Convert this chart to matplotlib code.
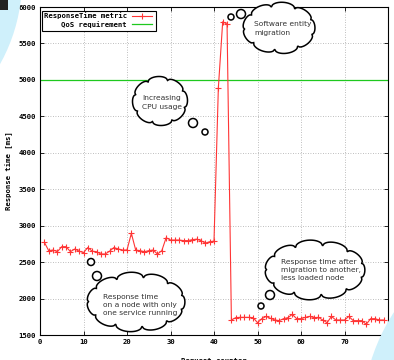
import matplotlib
matplotlib.use("Agg")
import matplotlib.pyplot as plt
from matplotlib.patches import Polygon, Circle, Rectangle
import numpy as np

# Data
request = np.arange(1, 80)
response_time = [
    2772, 2657, 2666, 2643, 2712, 2712, 2643, 2680, 2650, 2630,
    2700, 2650, 2643, 2611, 2611, 2650, 2700, 2680, 2666, 2666,
    2895, 2666, 2657, 2643, 2657, 2666, 2611, 2657, 2835, 2803,
    2803, 2803, 2795, 2795, 2808, 2815, 2795, 2760, 2780, 2788,
    4890, 5798, 5766, 1706, 1738, 1742, 1742, 1742, 1738, 1669,
    1724, 1755, 1728, 1706, 1697, 1724, 1738, 1783, 1724, 1724,
    1742, 1755, 1738, 1742, 1706, 1669, 1755, 1706, 1706, 1706,
    1755, 1697, 1697, 1697, 1646, 1724, 1724, 1706, 1706,
]
qos_requirement = 5000
x_ticks = np.arange(0, 81, 10)
y_ticks = np.arange(1500, 6001, 500)

mono = "DejaVu Sans Mono"
fs = 5.2

fig = plt.figure(figsize=(3.94, 3.6), dpi=100)
ax = fig.add_axes([40 / 394, 25 / 360, 348 / 394, 328 / 360])

ax.axhline(qos_requirement, color="#1ec81e", lw=0.9, zorder=2)
ax.plot(request, response_time, color="#ff3535", lw=0.8, marker="+",
        markersize=4, markeredgewidth=0.8, zorder=3)

ax.set_xlim(0, 80)
ax.set_ylim(1500, 6000)
ax.set_xticks(x_ticks)
ax.set_yticks(y_ticks)
ax.grid(True, color="#a8a8a8", lw=0.6, linestyle=(0, (1, 2)))
ax.tick_params(direction="in", length=3, width=0.6, top=True, right=True,
               labelsize=fs, pad=3)
for lab in ax.get_xticklabels() + ax.get_yticklabels():
    lab.set_family(mono)
    lab.set_weight("bold")
for s in ax.spines.values():
    s.set_linewidth(0.8)
ax.set_xlabel("Request counter", family=mono, weight="bold", fontsize=fs, labelpad=9)
ax.set_ylabel("Response time [ms]", family=mono, weight="bold", fontsize=fs, labelpad=4)

# overlay in pixel coordinates for legend, clouds and decorations
ov = fig.add_axes([0, 0, 1, 1])
ov.set_xlim(0, 394)
ov.set_ylim(360, 0)
ov.axis("off")
ov.patch.set_visible(False)

# legend (gnuplot style: text right aligned, sample on the right)
ov.add_patch(Rectangle((42, 11), 114, 20, fc="white", ec="black", lw=0.8))
ov.text(127, 15.7, "ResponseTime metric", ha="right", va="center",
        family=mono, weight="bold", fontsize=fs)
ov.text(127, 24.3, "QoS requirement", ha="right", va="center",
        family=mono, weight="bold", fontsize=fs)
ov.plot([132, 152], [15.7, 15.7], color="#ff3535", lw=0.8)
ov.plot([142], [15.7], color="#ff3535", marker="+", markersize=4, markeredgewidth=0.8)
ov.plot([132, 152], [24.3, 24.3], color="#1ec81e", lw=0.9)


def cloud(cx, cy, hw, hh, n):
    a, b = hw - 3.5, hh - 3.5
    t = np.linspace(0, 2 * np.pi, n + 1) + 0.3
    s = np.linspace(0, 1, 25)
    pts = []
    for k in range(n):
        p0 = np.array([cx + a * np.cos(t[k]), cy + b * np.sin(t[k])])
        p1 = np.array([cx + a * np.cos(t[k + 1]), cy + b * np.sin(t[k + 1])])
        ch = p1 - p0
        L = np.hypot(*ch)
        nrm = np.array([ch[1], -ch[0]]) / L
        mid = (p0 + p1) / 2
        if np.dot(nrm, mid - np.array([cx, cy])) < 0:
            nrm = -nrm
        off = 0.24 * L * np.sqrt(np.clip(1 - (2 * s - 1) ** 2, 0, 1))
        seg = p0[None, :] + s[:, None] * ch[None, :] + off[:, None] * nrm[None, :]
        pts.append(seg)
    ov.add_patch(Polygon(np.vstack(pts), closed=True, fc="white", ec="black", lw=1.1))


def bubble(x, y, r):
    ov.add_patch(Circle((x, y), r, fc="white", ec="black", lw=1.1))


txt = dict(family="DejaVu Sans", fontsize=5.4, color="#333333", linespacing=1.45,
           va="center", ha="left")

cloud(160, 101, 29, 25, 8)
bubble(193, 123, 4.5)
bubble(205, 132, 3)
ov.text(142, 102.5, "Increasing\nCPU usage", **txt)

cloud(279, 28, 38, 25, 9)
bubble(231, 17, 3)
bubble(241, 14, 4.5)
ov.text(254, 28.5, "Software entity\nmigration", **txt)

cloud(136, 302, 51, 28, 11)
bubble(91, 262, 3.5)
bubble(97, 276, 4.5)
ov.text(103, 305, "Response time\non a node with only\none service running", **txt)

cloud(315, 270, 52, 28, 11)
bubble(261, 306, 3)
bubble(270, 295, 4.5)
ov.text(281, 270, "Response time after\nmigration to another,\nless loaded node", **txt)

# decorative light blue shapes and dark corner block
ov.add_patch(Circle((-150, -20), 172, fc="#cff0fb", ec="none"))
ov.add_patch(Circle((560, 420), 198, fc="#cff0fb", ec="none"))
ov.add_patch(Rectangle((0, 0), 8, 10, fc="#222222", ec="none"))

fig.savefig("out.png", dpi=100)
